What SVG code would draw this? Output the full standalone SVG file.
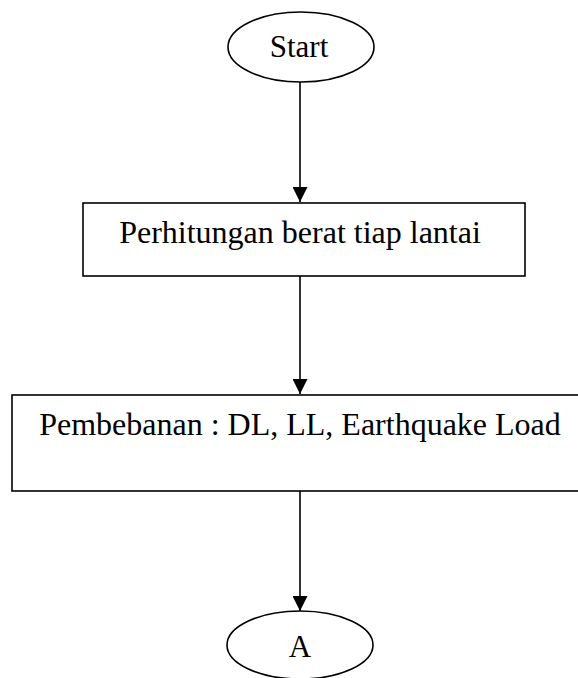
<svg xmlns="http://www.w3.org/2000/svg" width="578" height="678" viewBox="0 0 578 678">
<style>
.s{fill:#fff;stroke:#000;stroke-width:1.6}
.t{font-family:"Liberation Serif","Times New Roman",serif;font-size:32px;fill:#000;text-anchor:middle}
.c{stroke:#000;stroke-width:1.6;fill:none}
</style>
<defs>
<marker id="ah" markerWidth="15" markerHeight="15" refX="15" refY="7.5" orient="auto" markerUnits="userSpaceOnUse" viewBox="0 0 15 15">
<path d="M0,0 L15,7.5 L0,15 Z" fill="#000"/>
</marker>
</defs>
<rect width="578" height="678" fill="#fff"/>
<g id="connectors">
<path class="c" d="M300,82 V202" marker-end="url(#ah)"/>
<path class="c" d="M300,276 V394" marker-end="url(#ah)"/>
<path class="c" d="M300,491 V611" marker-end="url(#ah)"/>
</g>
<g id="start">
<ellipse class="s" cx="301" cy="47" rx="73" ry="35"/>
<text class="t" x="299" y="57" style="font-size:31px">Start</text>
</g>
<g id="perhitungan">
<rect class="s" x="83" y="203" width="442" height="73"/>
<text class="t" x="300" y="243">Perhitungan berat tiap lantai</text>
</g>
<g id="pembebanan">
<rect class="s" x="12" y="395" width="580" height="96"/>
<text class="t" x="300" y="435">Pembebanan : DL, LL, Earthquake Load</text>
</g>
<g id="a">
<ellipse class="s" cx="300" cy="645" rx="73" ry="34"/>
<text class="t" x="300" y="657" style="font-size:31px">A</text>
</g>
</svg>
